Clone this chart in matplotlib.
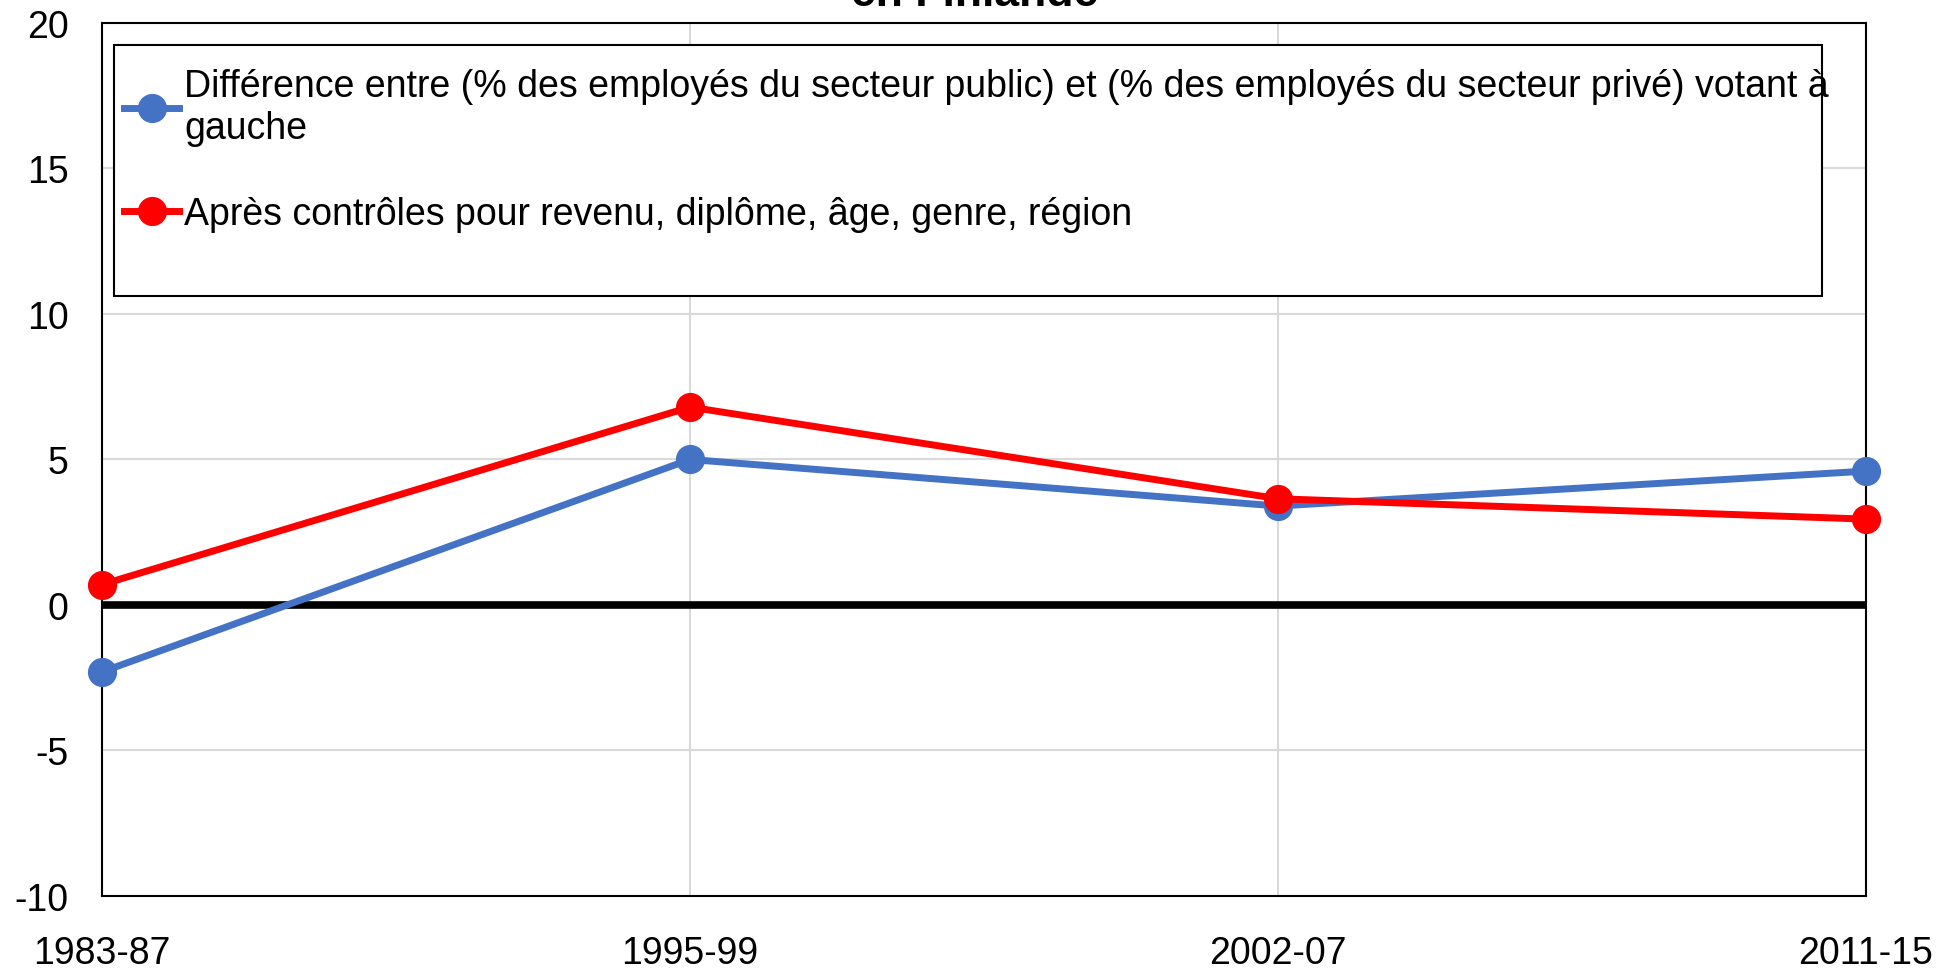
import matplotlib.pyplot as plt
import matplotlib.patches as mpatches

plt.rcParams["font.family"] = ["Liberation Sans", "DejaVu Sans"]
plt.rcParams["axes.unicode_minus"] = False

periods = ["1983-87", "1995-99", "2002-07", "2011-15"]
diff_raw = [-2.3, 5.0, 3.4, 4.6]
diff_ctrl = [0.7, 6.8, 3.65, 2.95]
label_raw = "Différence entre (% des employés du secteur public) et (% des employés du secteur privé) votant à\ngauche"
label_ctrl = "Après contrôles pour revenu, diplôme, âge, genre, région"

fig = plt.figure(figsize=(19.57, 9.70), dpi=100)
ax = fig.add_axes([0.0521, 0.0753, 0.9014, 0.9000])

x = list(range(len(periods)))
ax.plot(x, diff_raw, color="#4472c4", lw=5, marker="o", ms=20, label=label_raw, zorder=4, clip_on=False)
ax.plot(x, diff_ctrl, color="#ff0000", lw=5, marker="o", ms=20, label=label_ctrl, zorder=5, clip_on=False)
ax.axhline(0, color="black", lw=5.5, zorder=3)

ax.set_xlim(0, 3)
ax.set_ylim(-10, 20)
ax.set_yticks(range(-10, 21, 5))
ax.set_xticks(x, labels=periods)
ax.grid(True, color="#d9d9d9", lw=1.5, zorder=0)
ax.tick_params(axis="both", length=0, labelsize=27)
ax.tick_params(axis="x", pad=28)
ax.tick_params(axis="y", pad=24)
for s in ax.spines.values():
    s.set_linewidth(1.5)
    s.set_color("black")

# legend frame drawn separately so it keeps the reference's empty bottom area
ax.add_patch(mpatches.Rectangle((0.0068, 0.687), 0.968, 0.288, transform=ax.transAxes,
                                fill=True, facecolor="white", edgecolor="black", lw=1.5, zorder=6))
leg = ax.legend(loc="upper left", bbox_to_anchor=(0.0068, 0.96), frameon=False, fontsize=27,
                handlelength=1.47, handletextpad=0.13, labelspacing=1.35, borderpad=0.27,
                borderaxespad=0, handleheight=0.7)
leg.set_zorder(7)

fig.text(0.498, 1 - 6 / 970, "en Finlande", ha="center", va="baseline", fontsize=32, fontweight="bold")

fig.savefig("out.png", dpi=100)
plt.close(fig)
